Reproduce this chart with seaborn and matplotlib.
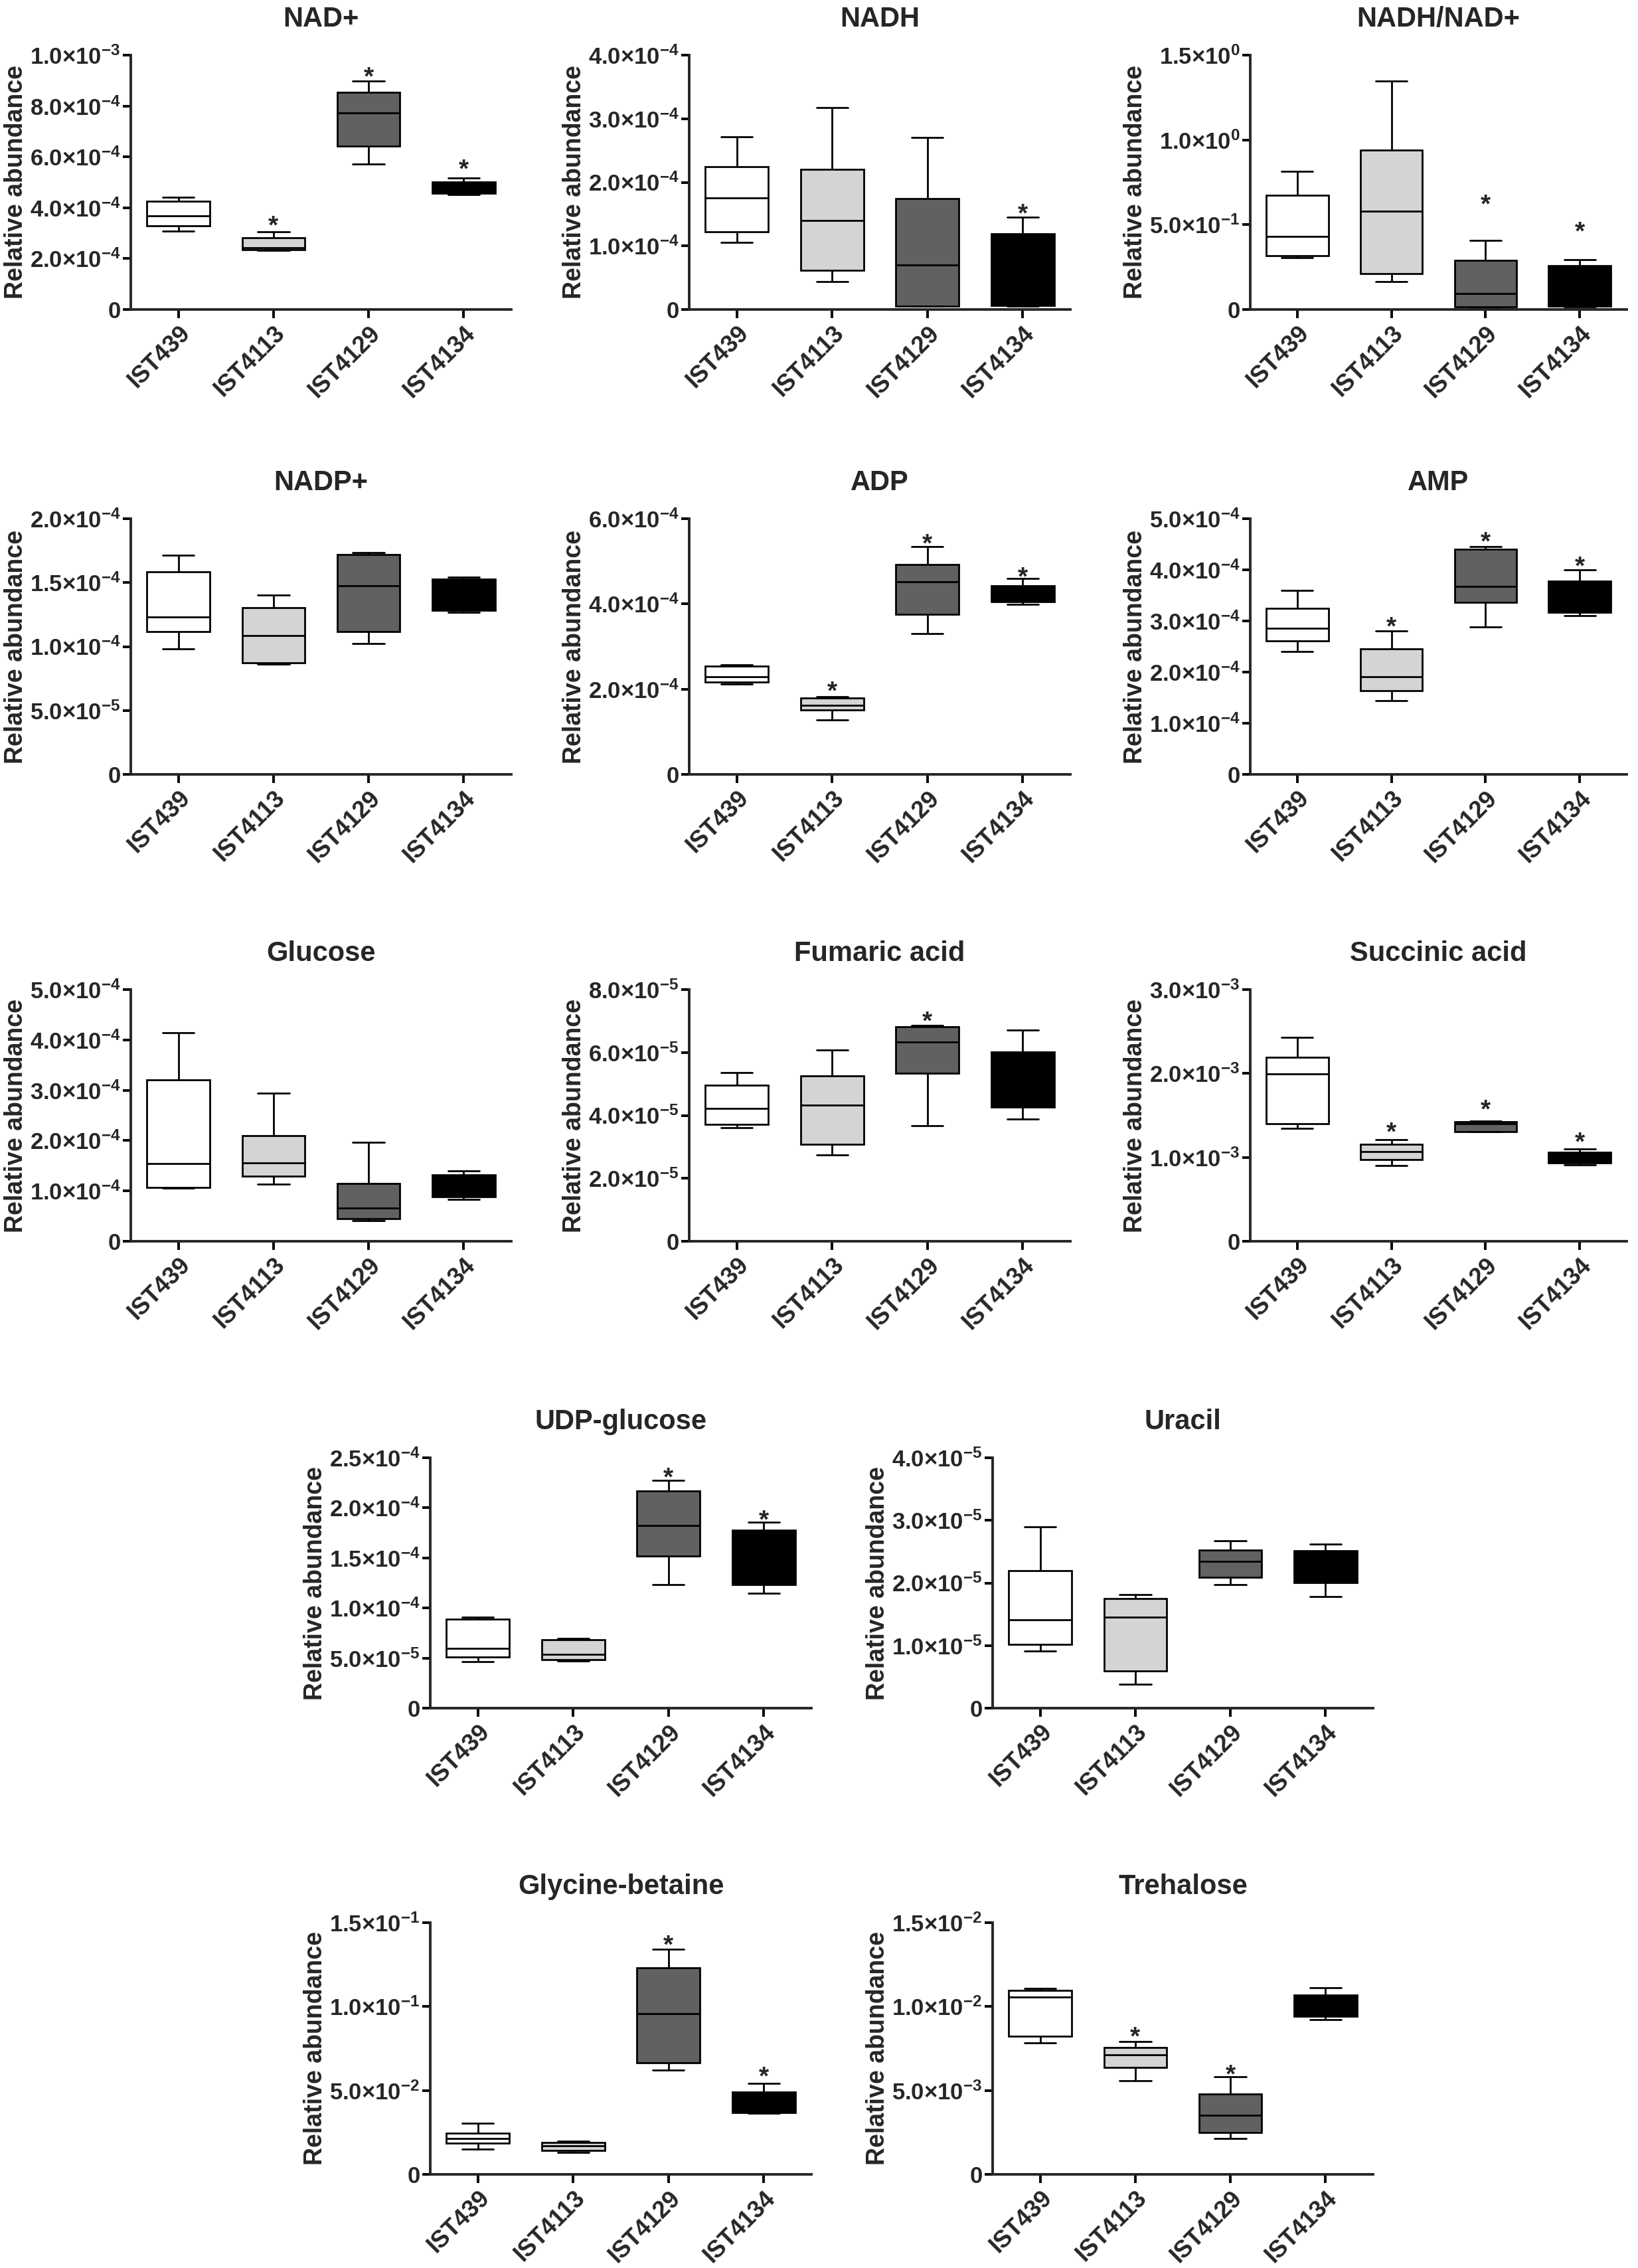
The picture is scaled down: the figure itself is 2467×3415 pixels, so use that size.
import numpy as np
import pandas as pd
import matplotlib
matplotlib.use("Agg")
import matplotlib.pyplot as plt
import seaborn as sns

# ---------------- data (five-number summaries: min, Q1, median, Q3, max) ----------------
STRAINS = ["IST439", "IST4113", "IST4129", "IST4134"]
COLORS = ["#ffffff", "#d4d4d4", "#616161", "#000000"]

NAD_PLUS = [[3.09e-4, 3.28e-4, 3.68e-4, 4.25e-4, 4.42e-4],
            [2.33e-4, 2.35e-4, 2.43e-4, 2.82e-4, 3.05e-4],
            [5.73e-4, 6.41e-4, 7.74e-4, 8.55e-4, 8.97e-4],
            [4.53e-4, 4.56e-4, 4.80e-4, 5.02e-4, 5.16e-4]]
NAD_PLUS_STARS = [None, 3.56e-4, 9.43e-4, 5.79e-4]
NAD_PLUS_TICKS = [0, 2e-4, 4e-4, 6e-4, 8e-4, 1e-3]

NADH = [[1.05e-4, 1.22e-4, 1.755e-4, 2.245e-4, 2.72e-4],
        [0.435e-4, 0.614e-4, 1.40e-4, 2.20e-4, 3.17e-4],
        [0.05e-4, 0.055e-4, 0.70e-4, 1.74e-4, 2.71e-4],
        [0.055e-4, 0.06e-4, 0.50e-4, 1.19e-4, 1.45e-4]]
NADH_STARS = [None, None, None, 1.62e-4]
NADH_TICKS = [0, 1e-4, 2e-4, 3e-4, 4e-4]

RATIO = [[0.305, 0.317, 0.43, 0.672, 0.813],
         [0.163, 0.213, 0.579, 0.94, 1.349],
         [0.010, 0.014, 0.093, 0.288, 0.408],
         [0.015, 0.019, 0.10, 0.257, 0.293]]
RATIO_STARS = [None, None, 0.66, 0.50]
RATIO_TICKS = [0, 0.5, 1.0, 1.5]

NADP_PLUS = [[0.983e-4, 1.118e-4, 1.231e-4, 1.585e-4, 1.713e-4],
             [0.862e-4, 0.873e-4, 1.085e-4, 1.306e-4, 1.403e-4],
             [1.025e-4, 1.116e-4, 1.474e-4, 1.717e-4, 1.735e-4],
             [1.266e-4, 1.284e-4, 1.40e-4, 1.529e-4, 1.545e-4]]
NADP_PLUS_STARS = [None, None, None, None]
NADP_PLUS_TICKS = [0, 5e-5, 1e-4, 1.5e-4, 2e-4]

ADP = [[2.122e-4, 2.168e-4, 2.288e-4, 2.533e-4, 2.573e-4],
       [1.273e-4, 1.512e-4, 1.625e-4, 1.79e-4, 1.817e-4],
       [3.31e-4, 3.76e-4, 4.52e-4, 4.93e-4, 5.35e-4],
       [3.99e-4, 4.045e-4, 4.20e-4, 4.42e-4, 4.60e-4]]
ADP_STARS = [None, 2.12e-4, 5.57e-4, 4.79e-4]
ADP_TICKS = [0, 2e-4, 4e-4, 6e-4]

AMP = [[2.406e-4, 2.616e-4, 2.86e-4, 3.243e-4, 3.603e-4],
       [1.436e-4, 1.63e-4, 1.912e-4, 2.456e-4, 2.805e-4],
       [2.883e-4, 3.365e-4, 3.68e-4, 4.407e-4, 4.457e-4],
       [3.11e-4, 3.171e-4, 3.50e-4, 3.78e-4, 3.997e-4]]
AMP_STARS = [None, 3.02e-4, 4.68e-4, 4.21e-4]
AMP_TICKS = [0, 1e-4, 2e-4, 3e-4, 4e-4, 5e-4]

GLUCOSE = [[1.062e-4, 1.073e-4, 1.538e-4, 3.20e-4, 4.139e-4],
           [1.138e-4, 1.289e-4, 1.56e-4, 2.10e-4, 2.947e-4],
           [0.412e-4, 0.455e-4, 0.666e-4, 1.154e-4, 1.972e-4],
           [0.829e-4, 0.878e-4, 1.10e-4, 1.322e-4, 1.398e-4]]
GLUCOSE_STARS = [None, None, None, None]
GLUCOSE_TICKS = [0, 1e-4, 2e-4, 3e-4, 4e-4, 5e-4]

FUMARIC = [[3.62e-5, 3.72e-5, 4.22e-5, 4.97e-5, 5.37e-5],
           [2.75e-5, 3.08e-5, 4.33e-5, 5.26e-5, 6.08e-5],
           [3.67e-5, 5.35e-5, 6.34e-5, 6.81e-5, 6.85e-5],
           [3.88e-5, 4.26e-5, 5.00e-5, 6.02e-5, 6.71e-5]]
FUMARIC_STARS = [None, None, 7.22e-5, None]
FUMARIC_TICKS = [0, 2e-5, 4e-5, 6e-5, 8e-5]

SUCCINIC = [[1.349e-3, 1.401e-3, 1.998e-3, 2.193e-3, 2.433e-3],
            [0.905e-3, 0.976e-3, 1.07e-3, 1.158e-3, 1.213e-3],
            [1.307e-3, 1.31e-3, 1.398e-3, 1.427e-3, 1.434e-3],
            [0.911e-3, 0.937e-3, 1.00e-3, 1.064e-3, 1.10e-3]]
SUCCINIC_STARS = [None, 1.38e-3, 1.654e-3, 1.265e-3]
SUCCINIC_TICKS = [0, 1e-3, 2e-3, 3e-3]

UDP_GLUCOSE = [[0.462e-4, 0.508e-4, 0.598e-4, 0.891e-4, 0.91e-4],
               [0.473e-4, 0.481e-4, 0.538e-4, 0.685e-4, 0.693e-4],
               [1.236e-4, 1.519e-4, 1.826e-4, 2.168e-4, 2.272e-4],
               [1.147e-4, 1.236e-4, 1.50e-4, 1.777e-4, 1.859e-4]]
UDP_GLUCOSE_STARS = [None, None, 2.37e-4, 1.95e-4]
UDP_GLUCOSE_TICKS = [0, 5e-5, 1e-4, 1.5e-4, 2e-4, 2.5e-4]

URACIL = [[0.917e-5, 1.017e-5, 1.413e-5, 2.196e-5, 2.90e-5],
          [0.378e-5, 0.591e-5, 1.457e-5, 1.752e-5, 1.817e-5],
          [1.97e-5, 2.087e-5, 2.343e-5, 2.53e-5, 2.67e-5],
          [1.787e-5, 2.009e-5, 2.25e-5, 2.513e-5, 2.617e-5]]
URACIL_STARS = [None, None, None, None]
URACIL_TICKS = [0, 1e-5, 2e-5, 3e-5, 4e-5]

GLYCINE_BETAINE = [[0.0150, 0.0185, 0.0215, 0.0247, 0.0306],
                   [0.0129, 0.01435, 0.0171, 0.0189, 0.0197],
                   [0.0621, 0.0665, 0.0956, 0.1231, 0.1342],
                   [0.0365, 0.0368, 0.0420, 0.0492, 0.0542]]
GLYCINE_BETAINE_STARS = [None, None, 0.1408, 0.0624]
GLYCINE_BETAINE_TICKS = [0, 5e-2, 1e-1, 1.5e-1]

TREHALOSE = [[7.82e-3, 8.24e-3, 10.56e-3, 10.95e-3, 11.08e-3],
             [5.60e-3, 6.37e-3, 7.11e-3, 7.56e-3, 7.92e-3],
             [2.15e-3, 2.50e-3, 3.53e-3, 4.77e-3, 5.81e-3],
             [9.21e-3, 9.40e-3, 10.0e-3, 10.68e-3, 11.13e-3]]
TREHALOSE_STARS = [None, 8.6e-3, 6.37e-3, None]
TREHALOSE_TICKS = [0, 5e-3, 1e-2, 1.5e-2]

PANELS = [
    ("NAD+", NAD_PLUS, NAD_PLUS_STARS, NAD_PLUS_TICKS),
    ("NADH", NADH, NADH_STARS, NADH_TICKS),
    ("NADH/NAD+", RATIO, RATIO_STARS, RATIO_TICKS),
    ("NADP+", NADP_PLUS, NADP_PLUS_STARS, NADP_PLUS_TICKS),
    ("ADP", ADP, ADP_STARS, ADP_TICKS),
    ("AMP", AMP, AMP_STARS, AMP_TICKS),
    ("Glucose", GLUCOSE, GLUCOSE_STARS, GLUCOSE_TICKS),
    ("Fumaric acid", FUMARIC, FUMARIC_STARS, FUMARIC_TICKS),
    ("Succinic acid", SUCCINIC, SUCCINIC_STARS, SUCCINIC_TICKS),
    ("UDP-glucose", UDP_GLUCOSE, UDP_GLUCOSE_STARS, UDP_GLUCOSE_TICKS),
    ("Uracil", URACIL, URACIL_STARS, URACIL_TICKS),
    ("Glycine-betaine", GLYCINE_BETAINE, GLYCINE_BETAINE_STARS, GLYCINE_BETAINE_TICKS),
    ("Trehalose", TREHALOSE, TREHALOSE_STARS, TREHALOSE_TICKS),
]

# ---------------- style ----------------
sns.set_style("ticks")
plt.rcParams["font.family"] = ["Liberation Sans", "DejaVu Sans"]
plt.rcParams["font.weight"] = "bold"
plt.rcParams["mathtext.fontset"] = "custom"
plt.rcParams["mathtext.rm"] = "Liberation Sans:bold"
plt.rcParams["mathtext.it"] = "Liberation Sans:bold"
plt.rcParams["mathtext.bf"] = "Liberation Sans:bold"
plt.rcParams["mathtext.sf"] = "Liberation Sans:bold"
plt.rcParams["mathtext.default"] = "bf"

W, H = 2467, 3415
fig = plt.figure(figsize=(W / 100, H / 100), dpi=100)
fig.patch.set_facecolor("white")

# layout in pixels: (left, right), (top, bottom)
COLS3 = [(197, 770), (1038, 1612), (1883, 2450)]
COLS2 = [(648, 1222), (1495, 2068)]
ROWS = [(83, 466), (781, 1166), (1490, 1869), (2195, 2572), (2895, 3274)]
rects = []
for r in range(3):
    for c in range(3):
        rects.append((COLS3[c], ROWS[r]))
for r in range(3, 5):
    for c in range(2):
        rects.append((COLS2[c], ROWS[r]))


def fmt(v):
    if v == 0:
        return "0"
    e = int(np.floor(np.log10(v) + 1e-9))
    m = v / 10 ** e
    return f"{m:.1f}\u00d710" + rf"$^{{{e}}}$"


for (title, summary, stars, ticks), ((l, r), (t, b)) in zip(PANELS, rects):
    ax = fig.add_axes([l / W, 1 - b / H, (r - l) / W, (b - t) / H])
    df = pd.DataFrame({"strain": np.repeat(STRAINS, 5),
                       "value": np.concatenate(summary)})
    sns.boxplot(data=df, x="strain", y="value", hue="strain", order=STRAINS,
                hue_order=STRAINS, palette=COLORS, saturation=1, whis=(0, 100),
                width=0.66, linecolor="black", linewidth=2.0, showfliers=False,
                dodge=False, legend=False, ax=ax)
    ax.set_xlim(-0.5, 3.5)
    ax.set_ylim(0, ticks[-1])
    ax.set_yticks(ticks)
    ax.set_yticklabels([fmt(v) for v in ticks], fontsize=25, fontweight="bold")
    ax.set_xticks(range(4))
    ax.set_xticklabels(STRAINS, rotation=45, ha="right", rotation_mode="anchor",
                       fontsize=26, fontweight="bold")
    ax.set_xlabel("")
    ax.set_ylabel("Relative abundance", fontsize=27, fontweight="bold", va="center")
    ax.yaxis.set_label_coords(-173 / (r - l), 0.5)
    ax.set_title(title, fontsize=30, fontweight="bold", pad=31)
    sns.despine(ax=ax)
    for s in ("left", "bottom"):
        ax.spines[s].set_linewidth(2.8)
    ax.tick_params(axis="both", width=2.8, length=9, color="black")
    ax.tick_params(axis="y", pad=2)
    ax.tick_params(axis="x", pad=4)
    ax.set_facecolor("white")
    for i, s in enumerate(stars):
        if s is not None:
            ax.annotate("*", xy=(i, s), xytext=(0, -16), textcoords="offset points",
                        ha="center", va="baseline", fontsize=28, fontweight="bold",
                        annotation_clip=False)

fig.savefig("out.png", dpi=100, facecolor="white")
